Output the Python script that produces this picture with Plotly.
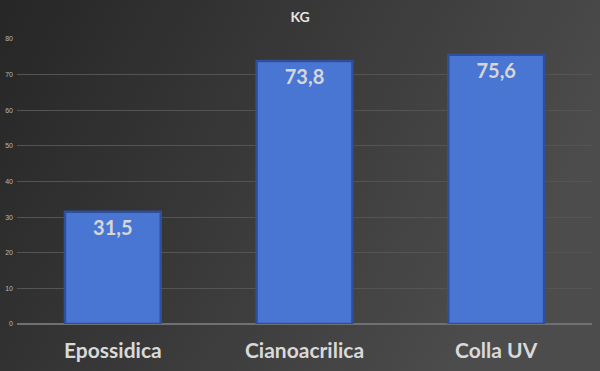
import plotly.graph_objects as go
import base64

categories = ["Epossidica", "Cianoacrilica", "Colla UV"]
values = [31.5, 73.8, 75.6]
y_ticks = [0, 10, 20, 30, 40, 50, 60, 70, 80]
title_text = "KG"

labels = [f"{v:.1f}".replace(".", ",") for v in values]

svg = """<svg xmlns='http://www.w3.org/2000/svg' width='600' height='371'>
<defs><linearGradient id='g' x1='0' y1='0' x2='1' y2='0.35'>
<stop offset='0' stop-color='#262626'/><stop offset='1' stop-color='#4c4c4c'/>
</linearGradient></defs><rect width='600' height='371' fill='url(#g)'/></svg>"""
bg = "data:image/svg+xml;base64," + base64.b64encode(svg.encode()).decode()

fig = go.Figure(go.Bar(
    x=categories, y=values, text=labels,
    textposition="inside", insidetextanchor="end",
    textfont=dict(family="Lato", size=20, color="#d6d6d6", weight="bold"),
    marker=dict(color="#4a76d3", line=dict(color="#2d4f9c", width=2.5)),
    width=0.5, cliponaxis=False, hoverinfo="skip",
))

fig.update_layout(
    width=600, height=371,
    margin=dict(l=17, r=8, t=39, b=47),
    paper_bgcolor="#383838", plot_bgcolor="rgba(0,0,0,0)",
    title=dict(text="<b>" + title_text + "</b>", x=0.5, xanchor="center", y=0.955, yanchor="middle",
               font=dict(family="Lato", size=14, color="#e6e6e6")),
    showlegend=False,
    images=[dict(source=bg, xref="paper", yref="paper", x=-17/575, y=1+39/285,
                 sizex=600/575, sizey=371/285,
                 xanchor="left", yanchor="top", sizing="stretch", layer="below")],
    xaxis=dict(tickfont=dict(family="Lato", size=21, color="#d9d9d9", weight="bold"),
               showgrid=False, showline=False, ticks="", ticklabelstandoff=12, automargin=False),
    yaxis=dict(range=[0, 80], tickvals=y_ticks, showgrid=True, gridcolor="#545454", gridwidth=1,
               zeroline=True, zerolinecolor="#707070", zerolinewidth=1.5,
               tickfont=dict(family="Liberation Sans", size=7, color="#b8b8b8"),
               ticklabelstandoff=3, automargin=False),
)

fig.write_html("out.html", config={"displayModeBar": False},
               post_script="document.body.style.margin='0';document.body.style.background='#262626';")
